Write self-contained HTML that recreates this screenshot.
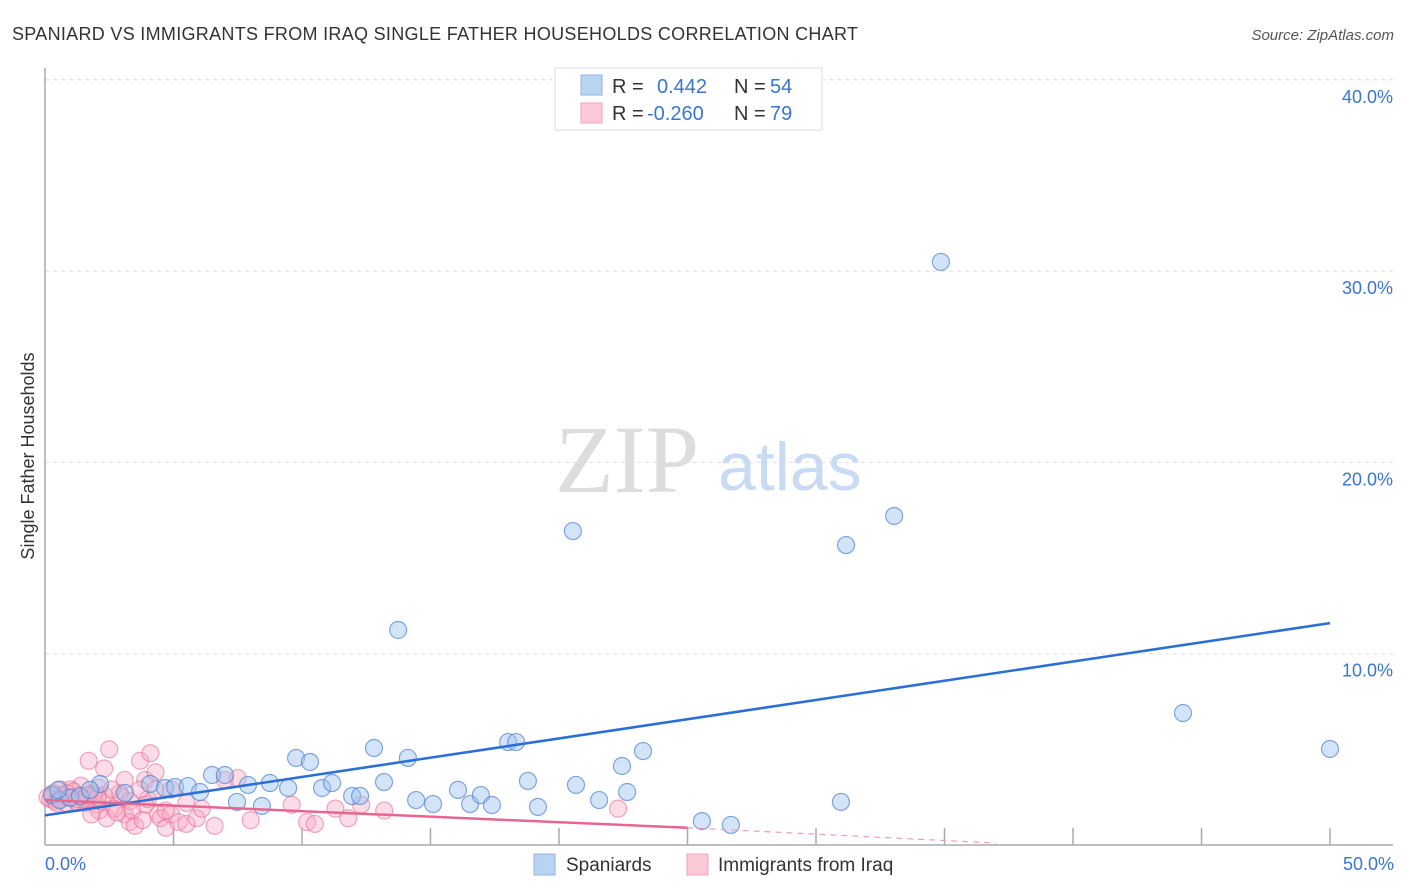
<!DOCTYPE html>
<html><head><meta charset="utf-8"><style>
body{margin:0;background:#fff;font-family:"Liberation Sans",sans-serif}
svg{display:block}
</style></head><body>
<svg width="1406" height="892">
<text x="12" y="40" font-size="18" fill="#333" textLength="846">SPANIARD VS IMMIGRANTS FROM IRAQ SINGLE FATHER HOUSEHOLDS CORRELATION CHART</text>
<text x="1394" y="40" font-size="15" fill="#555" font-style="italic" text-anchor="end">Source: ZipAtlas.com</text>
<g id="grid"></g>
<text x="555" y="492" font-size="96" fill="#ddd" font-family="Liberation Serif,serif">ZIP</text>
<text x="718" y="490" font-size="68" fill="#c9dbf3">atlas</text>
<g id="pts"></g>
<g id="lines"></g>
<text transform="translate(34,456) rotate(-90)" font-size="18" fill="#333" text-anchor="middle">Single Father Households</text>
<text x="45" y="870" font-size="18" fill="#3a75d0">0.0%</text>
<text x="1394" y="870" font-size="18" fill="#3a75d0" text-anchor="end">50.0%</text>
<g>
<rect x="555" y="68" width="267" height="62" fill="#fff" stroke="#ddd"/>
<rect x="581" y="75" width="21" height="20" fill="#b9d3f3" stroke="#8fb4e6"/>
<rect x="581" y="103" width="21" height="20" fill="#fcc9d8" stroke="#f2a3bb"/>
<text x="612" y="93" font-size="20" fill="#333">R =</text>
<text x="657" y="93" font-size="20" fill="#3a75d0">0.442</text>
<text x="734" y="93" font-size="20" fill="#333">N =</text>
<text x="770" y="93" font-size="20" fill="#3a75d0">54</text>
<text x="612" y="120" font-size="20" fill="#333">R =</text>
<text x="647" y="120" font-size="20" fill="#3a75d0">-0.260</text>
<text x="734" y="120" font-size="20" fill="#333">N =</text>
<text x="770" y="120" font-size="20" fill="#3a75d0">79</text>
</g>
<g>
<rect x="534" y="854" width="21" height="21" fill="#b9d3f3" stroke="#8fb4e6"/>
<text x="566" y="871" font-size="19" fill="#333">Spaniards</text>
<rect x="687" y="854" width="21" height="21" fill="#fcc9d8" stroke="#f2a3bb"/>
<text x="718" y="871" font-size="19" fill="#333">Immigrants from Iraq</text>
</g>
</svg>
<script>
const yTicks=[10,20,30,40];
const xTicks=[0,5,10,15,20,25,30,35,40,45,50];
const blueX=[0.27,0.58,0.97,1.36,2.14,3.11,4.09,4.67,5.06,5.56,6.03,6.50,7.00,7.47,7.90,8.44,8.75,9.46,9.77,10.31,10.78,11.17,11.95,12.26,12.80,13.19,13.74,14.12,14.44,15.10,16.07,16.54,16.96,17.39,18.02,18.33,18.79,19.18,20.54,20.66,21.56,22.45,22.65,23.27,25.56,26.69,30.97,31.17,33.04,34.86,44.28,50.0,0.51,1.75];
const blueY=[2.61,2.35,2.46,2.56,3.19,2.72,3.19,2.98,3.03,3.08,2.77,3.66,3.66,2.25,3.14,2.04,3.24,2.98,4.55,4.34,2.98,3.24,2.56,2.56,5.07,3.29,11.24,4.55,2.35,2.14,2.88,2.14,2.61,2.09,5.38,5.38,3.35,1.99,16.41,3.14,2.35,4.13,2.77,4.91,1.25,1.05,2.25,15.68,17.20,30.48,6.90,5.02,2.88,2.88];
const pinkX=[0.2,0.4,0.6,0.8,1.0,1.2,1.4,1.6,1.8,2.0,2.2,1.7,2.5,2.3,2.1,2.4,2.7,3.0,3.1,3.3,3.5,3.7,3.9,3.9,4.1,4.3,4.4,4.0,4.5,4.7,4.9,5.2,5.5,5.9,6.6,5.5,3.7,3.1,2.9,9.6,10.2,10.5,11.3,11.8,12.3,13.2,22.3,2.1,1.4,1.0,0.6,1.8,2.3,3.3,2.6,4.9,7.0,4.3,4.7,0.3,0.5,0.7,0.9,1.1,1.3,1.5,1.9,2.8,3.4,3.8,6.1,7.5,8.0,0.1,0.45,0.85,1.25,1.65,2.05];
const pinkY=[2.4,2.3,2.6,2.2,2.5,2.3,2.5,2.2,2.7,2.1,2.3,4.4,5.0,4.0,1.8,1.4,1.9,2.5,1.6,1.2,1.0,4.4,2.1,3.4,4.8,3.8,1.6,2.4,1.4,0.9,1.6,1.2,1.1,1.4,1.0,2.2,2.9,3.4,2.7,2.1,1.2,1.1,1.9,1.4,2.1,1.8,1.9,3.0,3.1,2.9,2.9,1.6,2.6,2.3,2.9,2.9,3.4,2.9,1.8,2.7,2.4,2.6,2.5,2.8,2.2,2.4,2.6,1.7,1.8,1.3,1.9,3.5,1.3,2.5,2.2,2.7,2.4,2.6,2.5];
const X=v=>45+v*25.7, Y=v=>845-v*19.13;
const NS='http://www.w3.org/2000/svg';
function mk(t,a,p){const e=document.createElementNS(NS,t);for(const k in a)e.setAttribute(k,a[k]);p.appendChild(e);return e;}
const grid=document.getElementById('grid');
yTicks.forEach(v=>{
 const l=mk('line',{x1:45,x2:1393,y1:Y(v),y2:Y(v),stroke:'#ddd','stroke-dasharray':'4,4'},grid);
 
 
 const t=mk('text',{x:1393,y:Y(v)+23,'font-size':18,fill:'#3a75d0','text-anchor':'end'},grid);
 t.textContent=v.toFixed(1)+'%';
 
 
});
const ax=mk('line',{x1:45,x2:45,y1:68,y2:845,stroke:'#aaa','stroke-width':1.5},grid);


const bx=mk('line',{x1:45,x2:1393,y1:845,y2:845,stroke:'#aaa','stroke-width':1.5},grid);


xTicks.slice(1).forEach(v=>{
 const t=mk('line',{x1:X(v),x2:X(v),y1:828,y2:845,stroke:'#aaa','stroke-width':1.5},grid);
 
 
});
const pts=document.getElementById('pts');
pinkX.forEach((v,i)=>{
 const c=mk('circle',{cx:X(v),cy:Y(pinkY[i]),r:8.5,fill:'rgba(248,170,195,0.4)',stroke:'rgba(230,110,150,0.6)','stroke-width':1.2},pts);
 
 
});
blueX.forEach((v,i)=>{
 const c=mk('circle',{cx:X(v),cy:Y(blueY[i]),r:8.5,fill:'rgba(160,195,240,0.45)',stroke:'rgba(80,130,210,0.7)','stroke-width':1.2},pts);
 
 
});
const lines=document.getElementById('lines');
const bl=mk('line',{x1:X(0),y1:Y(1.55),x2:X(50),y2:Y(11.6),stroke:'#2a6fd6','stroke-width':2.5},lines);


const pl=mk('line',{x1:X(0),y1:Y(2.35),x2:X(25),y2:Y(0.9),stroke:'#e8658f','stroke-width':2.5},lines);


const pd=mk('line',{x1:X(25),y1:Y(0.9),x2:X(37),y2:Y(0.1),stroke:'#e8a0b8','stroke-width':1.2,'stroke-dasharray':'6,5'},lines);


</script>
</body></html>
